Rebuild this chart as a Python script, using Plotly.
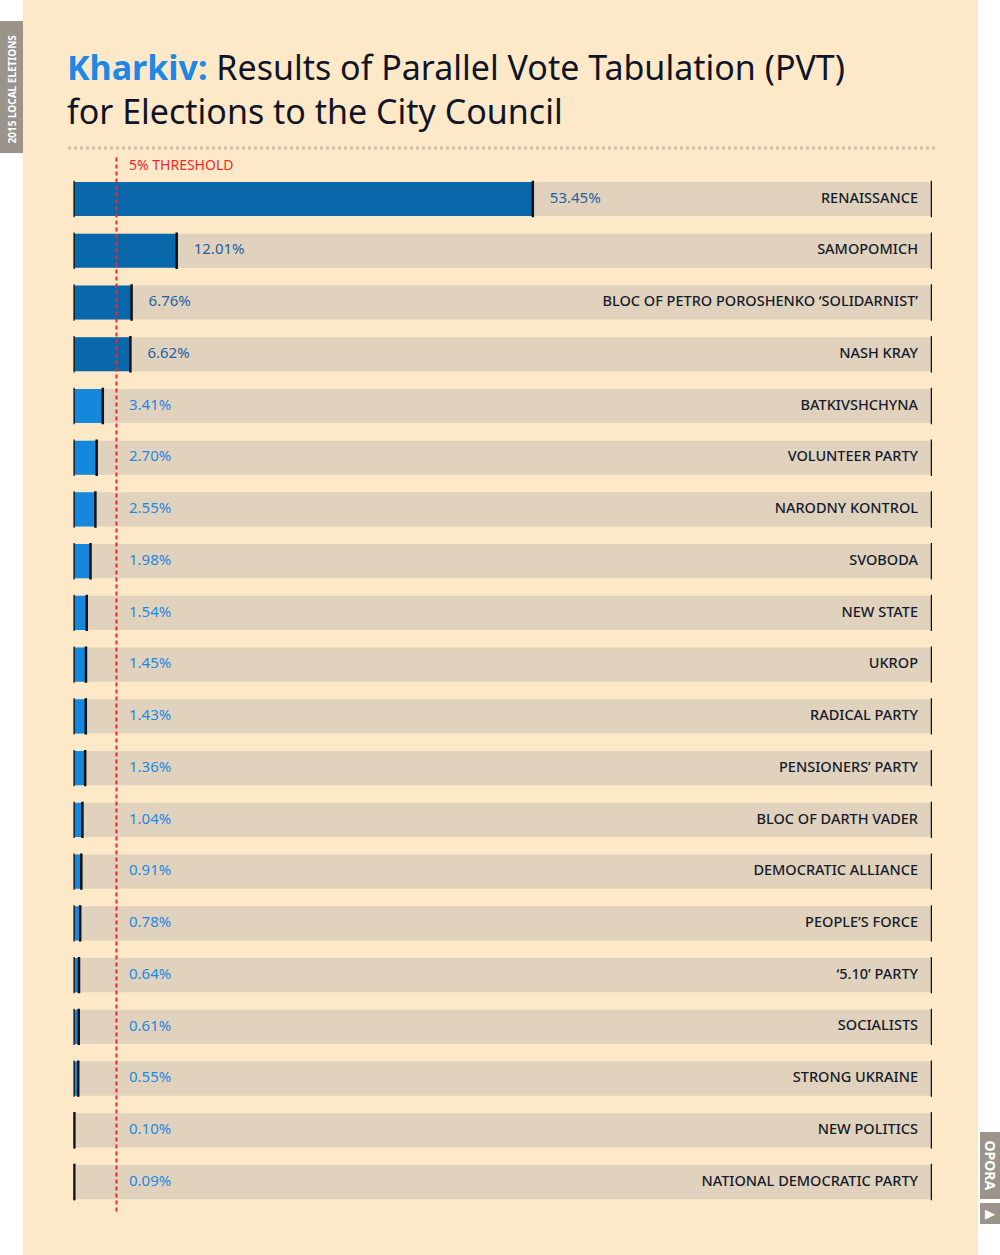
import plotly.graph_objects as go

# data
parties = [
    "RENAISSANCE", "SAMOPOMICH", "BLOC OF PETRO POROSHENKO ‘SOLIDARNIST’",
    "NASH KRAY", "BATKIVSHCHYNA", "VOLUNTEER PARTY", "NARODNY KONTROL",
    "SVOBODA", "NEW STATE", "UKROP", "RADICAL PARTY", "PENSIONERS’ PARTY",
    "BLOC OF DARTH VADER", "DEMOCRATIC ALLIANCE", "PEOPLE’S FORCE",
    "‘5.10’ PARTY", "SOCIALISTS", "STRONG UKRAINE", "NEW POLITICS",
    "NATIONAL DEMOCRATIC PARTY",
]
shares = [53.45, 12.01, 6.76, 6.62, 3.41, 2.70, 2.55, 1.98, 1.54, 1.45,
          1.43, 1.36, 1.04, 0.91, 0.78, 0.64, 0.61, 0.55, 0.10, 0.09]
threshold = 5

W, H = 1000, 1255
X0, X1 = 73.5, 932   # px span of the tracks
XMAX = 99.9
ROW = 51.74          # px per row
TOP = 199            # px centre of first row
PX = (X1 - X0) / XMAX

BG = "#fde9c8"
TRACK = "#e0d2bc"
DARK_BLUE = "#0868aa"
LIGHT_BLUE = "#1588dd"

passed = [v >= threshold for v in shares]
bar_cols = [DARK_BLUE if p else LIGHT_BLUE for p in passed]
lab_cols = ["#1f62a3" if p else "#1e88e5" for p in passed]

fig = go.Figure()

# background tracks
fig.add_trace(go.Bar(
    x=[XMAX] * len(parties), y=parties, orientation="h",
    marker=dict(color=TRACK, line=dict(width=0)), width=0.66,
    hoverinfo="skip", showlegend=False,
))
# result bars
fig.add_trace(go.Bar(
    x=shares, y=parties, orientation="h",
    marker=dict(color=bar_cols, line=dict(width=0)), width=0.66,
    showlegend=False,
))
# black bar edges: left, bar end, track end (line-ns drawn 1.4x size)
for xs in ([0] * len(parties), shares, [XMAX] * len(parties)):
    fig.add_trace(go.Scatter(
        x=xs, y=parties, mode="markers",
        marker=dict(symbol="line-ns", size=26, line=dict(width=2.5, color="#111111")),
        hoverinfo="skip", showlegend=False,
    ))

# percentage labels
fig.add_trace(go.Scatter(
    x=[max(v + 17 / PX, (129 - X0) / PX) for v in shares], y=parties, mode="text",
    text=[f"{v:.2f}%" for v in shares], textposition="middle right",
    textfont=dict(family="Noto Sans", size=15, color=lab_cols),
    hoverinfo="skip", showlegend=False,
))
# party names
fig.add_trace(go.Scatter(
    x=[XMAX - 14 / PX] * len(parties), y=parties, mode="text",
    text=parties, textposition="middle left",
    textfont=dict(family="Noto Sans", size=14.5, color="#151a2c", weight=500),
    hoverinfo="skip", showlegend=False,
))

y_top = -TOP / ROW
y_bot = y_top + H / ROW

shapes = [
    # cream panel
    dict(type="rect", xref="paper", yref="paper", x0=23 / W, x1=978 / W, y0=0, y1=1,
         fillcolor=BG, line=dict(width=0), layer="below"),
    # side tab
    dict(type="rect", xref="paper", yref="paper", x0=0, x1=23 / W,
         y0=1 - 153 / H, y1=1 - 21 / H, fillcolor="#9b948b", line=dict(width=0)),
    # opora tab
    dict(type="rect", xref="paper", yref="paper", x0=980 / W, x1=1,
         y0=1 - 1199 / H, y1=1 - 1132 / H, fillcolor="#9b948b", line=dict(width=0)),
    dict(type="rect", xref="paper", yref="paper", x0=980 / W, x1=1,
         y0=1 - 1224 / H, y1=1 - 1203 / H, fillcolor="#9b948b", line=dict(width=0)),
    # hatch rule under title
    dict(type="line", xref="paper", yref="paper", x0=68 / W, x1=935 / W,
         y0=1 - 148 / H, y1=1 - 148 / H, line=dict(color="#cbbfae", width=3, dash="dot")),
    # threshold line
    dict(type="line", xref="x", yref="y", x0=threshold, x1=threshold,
         y0=-0.8, y1=19.6, line=dict(color="#f0282d", width=2, dash="4px,3px")),
]

annotations = [
    dict(xref="paper", yref="paper", x=65 / W, y=1 - 42 / H, xanchor="left", yanchor="top",
         align="left", showarrow=False,
         text="<span style='color:#1e88e5'><b>Kharkiv:</b></span> Results of Parallel Vote Tabulation (PVT)"
              "<br>for Elections to the City Council",
         font=dict(family="Noto Sans", size=34, color="#101426")),
    dict(xref="paper", yref="y", x=127 / W, y=-0.66, xanchor="left", yanchor="middle",
         showarrow=False, text="5% THRESHOLD",
         font=dict(family="Noto Sans", size=14, color="#f0282d")),
    dict(xref="paper", yref="paper", x=11.5 / W, y=1 - 89 / H,
         xanchor="center", yanchor="middle", textangle=-90,
         showarrow=False, text="<b>2015 LOCAL ELETIONS</b>",
         font=dict(family="Noto Sans", size=10, color="white")),
    dict(xref="paper", yref="paper", x=990 / W, y=1 - 1165.5 / H,
         xanchor="center", yanchor="middle", textangle=90,
         showarrow=False, text="<b>OPORA</b>",
         font=dict(family="Noto Sans", size=14, color="white")),
    dict(xref="paper", yref="paper", x=990 / W, y=1 - 1213.5 / H,
         xanchor="center", yanchor="middle",
         showarrow=False, text="▶",
         font=dict(family="DejaVu Sans", size=13, color="white")),
]

fig.update_layout(
    width=W, height=H,
    margin=dict(l=0, r=0, t=0, b=0),
    paper_bgcolor="white", plot_bgcolor="rgba(0,0,0,0)",
    barmode="overlay",
    shapes=shapes, annotations=annotations,
    xaxis=dict(domain=[X0 / W, X1 / W], range=[0, XMAX], visible=False, fixedrange=True),
    yaxis=dict(domain=[0, 1], range=[y_bot, y_top], visible=False, fixedrange=True,
               categoryorder="array", categoryarray=parties),
)

fig.write_html("out.html", config={"displayModeBar": False},
               post_script="document.body.style.margin='0';")
